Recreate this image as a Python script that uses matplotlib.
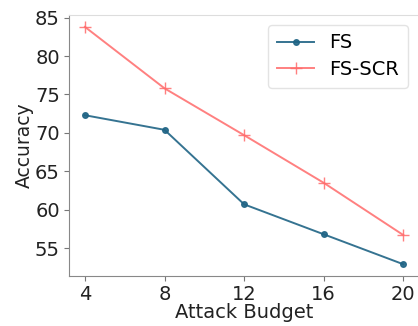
import matplotlib
matplotlib.use("Agg")
import matplotlib.pyplot as plt

# accuracy vs attack budget
budgets = [4, 8, 12, 16, 20]
acc_fs = [72.3, 70.4, 60.7, 56.8, 52.9]
acc_fs_scr = [83.8, 75.8, 69.7, 63.5, 56.7]

fig = plt.figure(figsize=(4.18, 3.26), dpi=100)
ax = fig.add_axes([0.165, 0.153, 0.838, 0.801])

ax.plot(budgets, acc_fs, color='#1f6485', marker='o', markersize=4,
        linewidth=1.4, alpha=0.9, label='FS')
ax.plot(budgets, acc_fs_scr, color='#ff6a6a', marker='+', markersize=9,
        linewidth=1.4, alpha=0.85, label='FS-SCR')

ax.set_xticks(budgets)
ax.set_yticks([55, 60, 65, 70, 75, 80, 85])
ax.tick_params(axis='both', labelsize=14, colors='#222222', length=3.5, pad=3)
ax.tick_params(axis='both', color='#777777')
ax.set_xlabel('Attack Budget', fontsize=14, color='#222222', labelpad=-1)
ax.set_ylabel('Accuracy', fontsize=13.5, color='#222222', labelpad=1)

ax.spines['left'].set_color('#888888')
ax.spines['bottom'].set_color('#888888')
ax.spines['top'].set_color('#dddddd')
ax.spines['right'].set_color('#dddddd')

leg = ax.legend(loc='upper right', bbox_to_anchor=(0.985, 0.985), fontsize=14,
                handlelength=1.9, handletextpad=0.8, borderpad=0.45,
                borderaxespad=0.3, labelspacing=0.4)
leg.get_frame().set_edgecolor('#dddddd')

fig.savefig('out.png', dpi=100)
